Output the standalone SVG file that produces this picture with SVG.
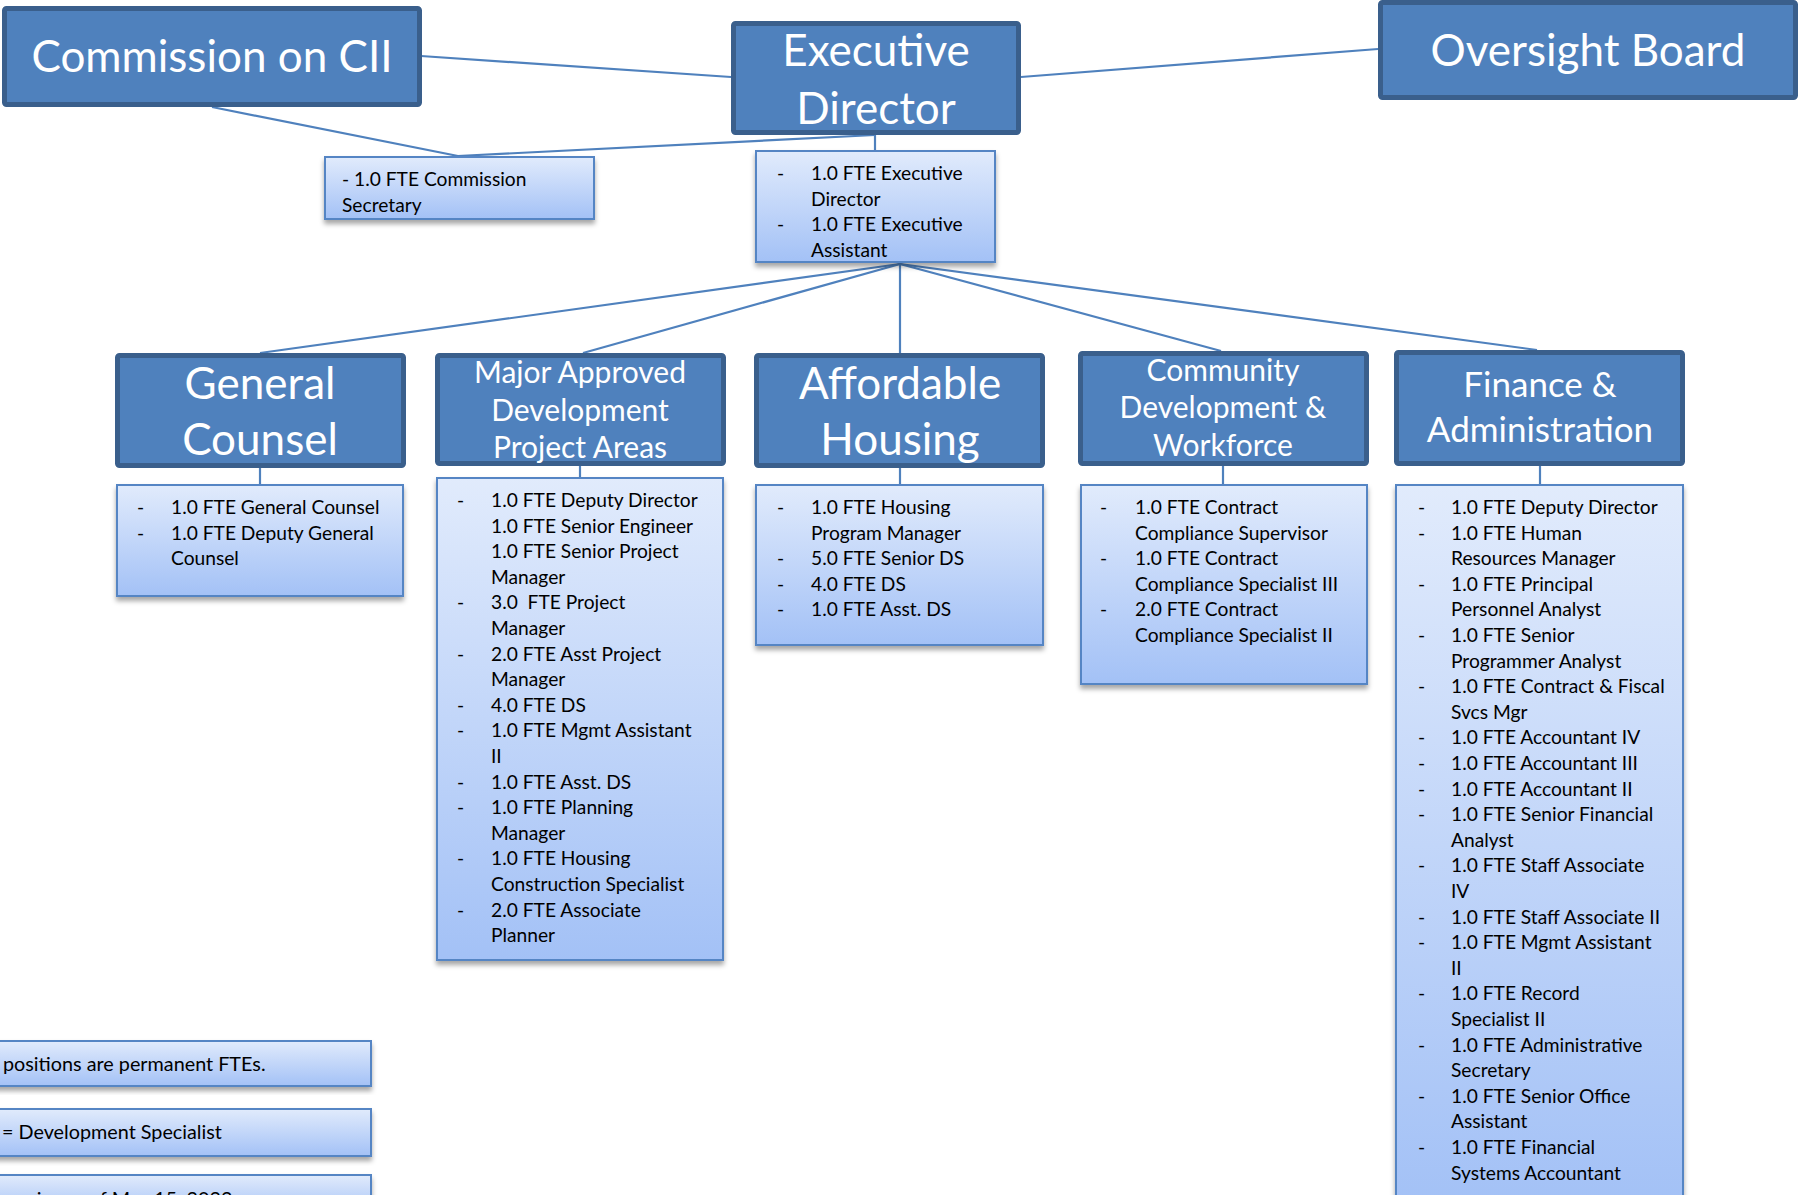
<svg xmlns="http://www.w3.org/2000/svg" width="1799" height="1195" viewBox="0 0 1799 1195">
<defs>
<linearGradient id="g" x1="0" y1="0" x2="0" y2="1">
<stop offset="0" stop-color="#E1EBFC"/>
<stop offset="1" stop-color="#A3C1F6"/>
</linearGradient>
<filter id="sh" x="-10%" y="-10%" width="120%" height="130%">
<feDropShadow dx="0" dy="4" stdDeviation="2.5" flood-color="#000" flood-opacity="0.35"/>
</filter>
<style>
.hdr rect{fill:#4F81BD;stroke:#3A5F8C;stroke-width:5}
.hdr text{fill:#fff;font-family:Lato,"Liberation Sans",sans-serif;text-anchor:middle}
.big{font-size:44px}
.mid{font-size:30px}
.fin{font-size:35px}
.info rect{fill:url(#g);stroke:#5585C4;stroke-width:2;filter:url(#sh)}
.info text{font-family:Lato,"Liberation Sans",sans-serif;font-size:19.2px;fill:#000}
.info text.lg{font-size:19.8px}
.conn line{stroke:#4F81BD;stroke-width:2.2}
</style>
</defs>
<rect width="1799" height="1195" fill="#fff"/>
<g class="conn" id="connectors">
<line x1="421" y1="56" x2="731" y2="77"/>
<line x1="1021" y1="77" x2="1378" y2="49"/>
<line x1="212" y1="107" x2="458" y2="156"/>
<line x1="458" y1="156" x2="875" y2="135"/>
<line x1="875" y1="135" x2="875" y2="150"/>
<line x1="900" y1="264" x2="260" y2="353"/>
<line x1="900" y1="264" x2="583" y2="353"/>
<line x1="900" y1="264" x2="900" y2="353"/>
<line x1="900" y1="264" x2="1221" y2="351"/>
<line x1="900" y1="264" x2="1537" y2="350"/>
<line x1="260" y1="468" x2="260" y2="484"/>
<line x1="580" y1="466" x2="580" y2="477"/>
<line x1="900" y1="468" x2="900" y2="484"/>
<line x1="1223" y1="466" x2="1223" y2="484"/>
<line x1="1540" y1="466" x2="1540" y2="484"/>
</g>
<g class="hdr" id="commission">
<rect x="4.5" y="8.5" width="415" height="96" rx="2"/>
<text class="big" x="212" y="72">Commission on CII</text>
</g>
<g class="hdr" id="executive-director">
<rect x="733.5" y="23.5" width="285" height="109" rx="2"/>
<text class="big" x="876" y="66">Executive</text>
<text class="big" x="876" y="124">Director</text>
</g>
<g class="hdr" id="oversight-board">
<rect x="1380.5" y="2.5" width="415" height="95" rx="2"/>
<text class="big" x="1588" y="66">Oversight Board</text>
</g>
<g class="info" id="commission-secretary">
<rect x="325" y="157" width="269" height="62"/>
<text x="342" y="186">- 1.0 FTE Commission</text>
<text x="342" y="212">Secretary</text>
</g>
<g class="info" id="executive-staff">
<rect x="756" y="151" width="239" height="111"/>
<text x="777" y="180">-</text><text x="811" y="180">1.0 FTE Executive</text>
<text x="811" y="205.6">Director</text>
<text x="777" y="231.2">-</text><text x="811" y="231.2">1.0 FTE Executive</text>
<text x="811" y="256.8">Assistant</text>
</g>
<g class="hdr" id="general-counsel">
<rect x="117.5" y="355.5" width="286" height="110" rx="2"/>
<text class="big" x="260" y="399">General</text>
<text class="big" x="260" y="455">Counsel</text>
</g>
<g class="hdr" id="major-approved">
<rect x="437.5" y="355.5" width="286" height="108" rx="2"/>
<text class="mid" x="580" y="383">Major Approved</text>
<text class="mid" x="580" y="421">Development</text>
<text class="mid" x="580" y="458">Project Areas</text>
</g>
<g class="hdr" id="affordable-housing">
<rect x="756.5" y="355.5" width="286" height="110" rx="2"/>
<text class="big" x="900" y="399">Affordable</text>
<text class="big" x="900" y="455">Housing</text>
</g>
<g class="hdr" id="community-development">
<rect x="1080.5" y="353.5" width="286" height="110" rx="2"/>
<text class="mid" x="1223" y="381">Community</text>
<text class="mid" x="1223" y="418">Development &amp;</text>
<text class="mid" x="1223" y="456">Workforce</text>
</g>
<g class="hdr" id="finance-administration">
<rect x="1396.5" y="352.5" width="286" height="111" rx="2"/>
<text class="fin" x="1540" y="397">Finance &amp;</text>
<text class="fin" x="1540" y="442">Administration</text>
</g>
<g class="info" id="general-counsel-staff">
<rect x="117" y="485" width="286" height="111"/>
<text x="137" y="514">-</text><text x="171" y="514">1.0 FTE General Counsel</text>
<text x="137" y="539.6">-</text><text x="171" y="539.6">1.0 FTE Deputy General</text>
<text x="171" y="565.2">Counsel</text>
</g>
<g class="info" id="major-approved-staff">
<rect x="437" y="478" width="286" height="482"/>
<text x="457" y="507">-</text><text x="491" y="507">1.0 FTE Deputy Director</text>
<text x="491" y="532.6">1.0 FTE Senior Engineer</text>
<text x="491" y="558.2">1.0 FTE Senior Project</text>
<text x="491" y="583.8">Manager</text>
<text x="457" y="609.4">-</text><text x="491" y="609.4" xml:space="preserve">3.0  FTE Project</text>
<text x="491" y="635">Manager</text>
<text x="457" y="660.6">-</text><text x="491" y="660.6">2.0 FTE Asst Project</text>
<text x="491" y="686.2">Manager</text>
<text x="457" y="711.8">-</text><text x="491" y="711.8">4.0 FTE DS</text>
<text x="457" y="737.4">-</text><text x="491" y="737.4">1.0 FTE Mgmt Assistant</text>
<text x="491" y="763">II</text>
<text x="457" y="788.6">-</text><text x="491" y="788.6">1.0 FTE Asst. DS</text>
<text x="457" y="814.2">-</text><text x="491" y="814.2">1.0 FTE Planning</text>
<text x="491" y="839.8">Manager</text>
<text x="457" y="865.4">-</text><text x="491" y="865.4">1.0 FTE Housing</text>
<text x="491" y="891">Construction Specialist</text>
<text x="457" y="916.6">-</text><text x="491" y="916.6">2.0 FTE Associate</text>
<text x="491" y="942.2">Planner</text>
</g>
<g class="info" id="affordable-housing-staff">
<rect x="756" y="485" width="287" height="160"/>
<text x="777" y="514">-</text><text x="811" y="514">1.0 FTE Housing</text>
<text x="811" y="539.6">Program Manager</text>
<text x="777" y="565.2">-</text><text x="811" y="565.2">5.0 FTE Senior DS</text>
<text x="777" y="590.8">-</text><text x="811" y="590.8">4.0 FTE DS</text>
<text x="777" y="616.4">-</text><text x="811" y="616.4">1.0 FTE Asst. DS</text>
</g>
<g class="info" id="community-development-staff">
<rect x="1081" y="485" width="286" height="199"/>
<text x="1100" y="514">-</text><text x="1135" y="514">1.0 FTE Contract</text>
<text x="1135" y="539.6">Compliance Supervisor</text>
<text x="1100" y="565.2">-</text><text x="1135" y="565.2">1.0 FTE Contract</text>
<text x="1135" y="590.8">Compliance Specialist III</text>
<text x="1100" y="616.4">-</text><text x="1135" y="616.4">2.0 FTE Contract</text>
<text x="1135" y="642">Compliance Specialist II</text>
</g>
<g class="info" id="finance-administration-staff">
<rect x="1396" y="485" width="287" height="720"/>
<text x="1418" y="514">-</text><text x="1451" y="514">1.0 FTE Deputy Director</text>
<text x="1418" y="539.6">-</text><text x="1451" y="539.6">1.0 FTE Human</text>
<text x="1451" y="565.2">Resources Manager</text>
<text x="1418" y="590.8">-</text><text x="1451" y="590.8">1.0 FTE Principal</text>
<text x="1451" y="616.4">Personnel Analyst</text>
<text x="1418" y="642">-</text><text x="1451" y="642">1.0 FTE Senior</text>
<text x="1451" y="667.6">Programmer Analyst</text>
<text x="1418" y="693.2">-</text><text x="1451" y="693.2">1.0 FTE Contract &amp; Fiscal</text>
<text x="1451" y="718.8">Svcs Mgr</text>
<text x="1418" y="744.4">-</text><text x="1451" y="744.4">1.0 FTE Accountant IV</text>
<text x="1418" y="770">-</text><text x="1451" y="770">1.0 FTE Accountant III</text>
<text x="1418" y="795.6">-</text><text x="1451" y="795.6">1.0 FTE Accountant II</text>
<text x="1418" y="821.2">-</text><text x="1451" y="821.2">1.0 FTE Senior Financial</text>
<text x="1451" y="846.8">Analyst</text>
<text x="1418" y="872.4">-</text><text x="1451" y="872.4">1.0 FTE Staff Associate</text>
<text x="1451" y="898">IV</text>
<text x="1418" y="923.6">-</text><text x="1451" y="923.6">1.0 FTE Staff Associate II</text>
<text x="1418" y="949.2">-</text><text x="1451" y="949.2">1.0 FTE Mgmt Assistant</text>
<text x="1451" y="974.8">II</text>
<text x="1418" y="1000.4">-</text><text x="1451" y="1000.4">1.0 FTE Record</text>
<text x="1451" y="1026">Specialist II</text>
<text x="1418" y="1051.6">-</text><text x="1451" y="1051.6">1.0 FTE Administrative</text>
<text x="1451" y="1077.2">Secretary</text>
<text x="1418" y="1102.8">-</text><text x="1451" y="1102.8">1.0 FTE Senior Office</text>
<text x="1451" y="1128.4">Assistant</text>
<text x="1418" y="1154">-</text><text x="1451" y="1154">1.0 FTE Financial</text>
<text x="1451" y="1179.6">Systems Accountant</text>
</g>
<g class="info" id="legend-permanent">
<rect x="-10" y="1041" width="381" height="45"/>
<text class="lg" x="3" y="1071">positions are permanent FTEs.</text>
</g>
<g class="info" id="legend-ds">
<rect x="-10" y="1109" width="381" height="47"/>
<text class="lg" x="2" y="1139">= Development Specialist</text>
</g>
<g class="info" id="legend-vacancies">
<rect x="-10" y="1175" width="381" height="40"/>
<text class="lg" x="-3" y="1206">cancies as of May 15, 2022</text>
</g>
</svg>
